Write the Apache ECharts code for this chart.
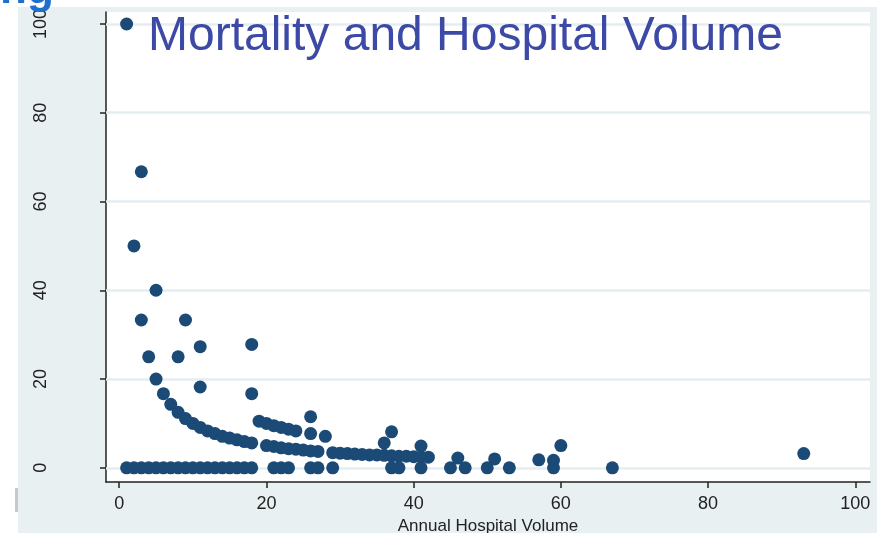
<!DOCTYPE html>
<html>
<head>
<meta charset="utf-8">
<script src="https://cdn.jsdelivr.net/npm/echarts@6/dist/echarts.min.js"></script>
<style>
	html, body { margin: 0; padding: 0; background: #fff; }
	#chart { width: 877px; height: 533px; }
</style>
</head>
<body>
<div id="chart"></div>
<script>
	// hospitals with no deaths (annual volume)
	const zeroVolumes = [1, 2, 3, 4, 5, 6, 7, 8, 9, 10, 11, 12, 13, 14, 15, 16, 17, 18,
		21, 22, 23, 26, 27, 29, 37, 38, 41, 45, 47, 50, 53, 59, 67]
	// hospitals with deaths: volume and mortality (%)
	const volumes = [1, 2, 3, 3, 4, 5, 5, 6, 7, 8, 8, 9, 9, 10, 11, 11, 11, 12, 13, 14, 15, 16, 17, 18, 18, 18,
		19, 20, 21, 22, 23, 24, 26, 26, 28,
		20, 21, 22, 23, 24, 25, 26, 27,
		29, 30, 31, 32, 33, 34, 35,
		36, 37, 41,
		36, 37, 38, 39, 40, 41, 42,
		46, 51, 57, 59, 60, 93]
	const mortality = [100, 50, 66.7, 33.3, 25, 40, 20, 16.7, 14.3, 25, 12.5, 33.3, 11.1, 10, 27.3, 18.2, 9.1, 8.3, 7.7, 7.1, 6.7, 6.3, 5.9, 27.8, 16.7, 5.6,
		10.5, 10, 9.5, 9.1, 8.7, 8.3, 11.5, 7.7, 7.1,
		5, 4.8, 4.5, 4.3, 4.2, 4, 3.8, 3.7,
		3.4, 3.3, 3.2, 3.1, 3, 2.9, 2.9,
		5.6, 8.1, 4.9,
		2.8, 2.7, 2.6, 2.6, 2.5, 2.4, 2.4,
		2.2, 2, 1.8, 1.7, 5, 3.2]
	const xTicks = [0, 20, 40, 60, 80, 100]
	const yTicks = [0, 20, 40, 60, 80, 100]

	const points = volumes.map((v, i) => [v, mortality[i]])
		.concat(zeroVolumes.map((v) => [v, 0]))

	const myCharts = echarts.init(document.getElementById('chart'))
	const font = 'Liberation Sans, Arial, sans-serif'
	const option = {
		backgroundColor: '#fff',
		animation: false,
		title: {
			text: 'Mortality and Hospital Volume',
			left: 148,
			top: 13,
			padding: 0,
			z: 10,
			textStyle: {
				fontFamily: font,
				fontSize: 48,
				fontWeight: 'normal',
				color: '#3c4aa6'
			}
		},
		graphic: [
			{
				type: 'rect',
				z: -10,
				shape: { x: 18, y: 7, width: 859, height: 526 },
				style: { fill: '#e8f0f2' }
			},
			{
				type: 'rect',
				z: -9,
				shape: { x: 15, y: 488, width: 3, height: 24 },
				style: { fill: '#c8c8c8' }
			},
			{
				// cut-off slide heading above the figure
				type: 'text',
				z: 20,
				style: {
					text: 'ng',
					x: 0,
					y: 13,
					textVerticalAlign: 'bottom',
					fontFamily: font,
					fontSize: 44,
					fontWeight: 'bold',
					fill: '#1f6fcf'
				}
			}
		],
		grid: {
			left: 106,
			right: 7,
			top: 12,
			bottom: 51,
			outerBoundsMode: 'none',
			containLabel: false,
			show: true,
			backgroundColor: '#fff',
			borderWidth: 0
		},
		xAxis: {
			type: 'value',
			min: -1.8,
			max: 102,
			name: 'Annual Hospital Volume',
			nameLocation: 'middle',
			nameGap: 31,
			nameTextStyle: { fontFamily: font, fontSize: 17, color: '#222' },
			axisLine: { show: true, onZero: false, lineStyle: { color: '#222', width: 1.5 } },
			axisTick: { show: true, customValues: xTicks, length: 6, lineStyle: { color: '#222', width: 1.5 } },
			axisLabel: { customValues: xTicks, fontFamily: font, fontSize: 18, color: '#222', margin: 13 },
			splitLine: { show: false }
		},
		yAxis: {
			type: 'value',
			min: -3.2,
			max: 102.7,
			axisLine: { show: true, onZero: false, lineStyle: { color: '#222', width: 1.5 } },
			axisTick: { show: true, customValues: yTicks, length: 6, lineStyle: { color: '#222', width: 1.5 } },
			axisLabel: { customValues: yTicks, rotate: 90, fontFamily: font, fontSize: 18, color: '#222', margin: 56 },
			splitLine: { show: false }
		},
		series: [
			{
				// horizontal grid lines at the y ticks
				type: 'scatter',
				data: [],
				z: 1,
				silent: true,
				markLine: {
					z: 1,
					silent: true,
					symbol: 'none',
					label: { show: false },
					lineStyle: { color: '#e4edf0', width: 2.5, type: 'solid' },
					data: yTicks.map((t) => ({ yAxis: t }))
				}
			},
			{
				type: 'scatter',
				z: 3,
				symbol: 'circle',
				symbolSize: 13,
				itemStyle: { color: '#1b4a76', opacity: 1 },
				data: points
			}
		]
	}
	myCharts.setOption(option)
</script>
</body>
</html>
